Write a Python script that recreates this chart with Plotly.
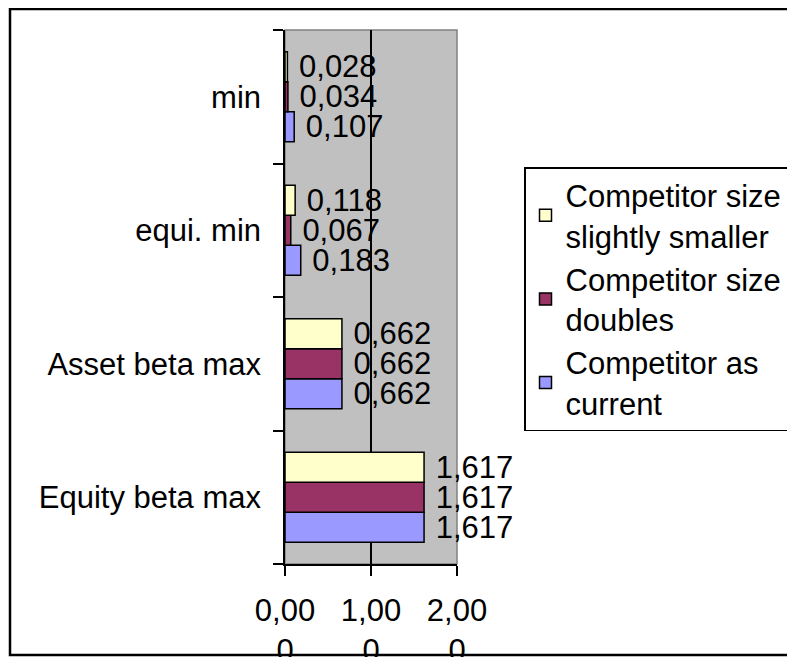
import plotly.graph_objects as go

categories = ["Equity beta max", "Asset beta max", "equi. min", "min"]
series_names = ["Competitor as<br>current", "Competitor size<br>doubles", "Competitor size<br>slightly smaller"]
as_current = [1.617, 0.662, 0.183, 0.107]
size_doubles = [1.617, 0.662, 0.067, 0.034]
slightly_smaller = [1.617, 0.662, 0.118, 0.028]
colors = ["#9999FF", "#993366", "#FFFFCC"]
tick_vals = [0, 1, 2]
tick_text = ["0,00<br>0", "1,00<br>0", "2,00<br>0"]

OFF = 8  # page body margin
W, H = 795 - OFF, 657 - OFF
L, R, T, B = 285 - OFF, 457 - OFF, 30 - OFF, 564 - OFF
FONT = "Liberation Sans, Arial, sans-serif"
FS = 31

def px(x):
    return (x - OFF - L) / (R - L)

def py(y):
    return (B - (y - OFF)) / (B - T)

fig = go.Figure()
for name, vals, col in zip(series_names, [as_current, size_doubles, slightly_smaller], colors):
    fig.add_trace(go.Bar(
        y=categories, x=vals, name=name, orientation="h",
        marker=dict(color=col, line=dict(color="black", width=1.5)),
        texttemplate=" %{x:.3f}", textposition="outside",
        textfont=dict(family=FONT, size=FS, color="black"),
        constraintext="none", cliponaxis=False,
    ))

fig.update_layout(
    width=W, height=H,
    margin=dict(l=L, r=W - R, t=T, b=H - B, pad=0, autoexpand=False),
    paper_bgcolor="white", plot_bgcolor="#C0C0C0",
    barmode="group", bargap=0.326, bargroupgap=0,
    separators=",.",
    font=dict(family=FONT, size=FS, color="black"),
    showlegend=True,
    legend=dict(
        xref="container", yref="container",
        x=(524 - OFF) / W, y=1 - (167 - OFF) / H, xanchor="left", yanchor="top",
        traceorder="reversed", bgcolor="white", bordercolor="black", borderwidth=1.5,
        font=dict(family=FONT, size=FS, color="black"),
        tracegroupgap=0,
    ),
    xaxis=dict(
        range=[0, 2], tickvals=tick_vals, ticktext=tick_text, tickangle=0,
        showgrid=True, gridcolor="black", gridwidth=1.5, zeroline=False,
        showline=True, linecolor="black", linewidth=1.5,
        ticks="outside", ticklen=10, tickwidth=1.5, tickcolor="black",
        ticklabelstandoff=8, fixedrange=True, automargin=False,
    ),
    yaxis=dict(
        categoryorder="array", categoryarray=categories,
        showline=True, linecolor="black", linewidth=1.5,
        ticks="outside", ticklen=10, tickwidth=1.5, tickcolor="black",
        tickson="boundaries", showgrid=False, zeroline=False,
        ticklabelstandoff=16, fixedrange=True, automargin=False,
    ),
    shapes=[
        dict(type="rect", xref="paper", yref="paper",
             x0=px(10), x1=px(795 + 20), y0=py(655), y1=py(9),
             line=dict(color="black", width=2.5), fillcolor="rgba(0,0,0,0)", layer="above"),
        dict(type="rect", xref="paper", yref="paper",
             x0=0, x1=1, y0=0, y1=1,
             line=dict(color="#808080", width=1.5), fillcolor="rgba(0,0,0,0)", layer="below"),
    ],
)

fig.write_html("out.html")
